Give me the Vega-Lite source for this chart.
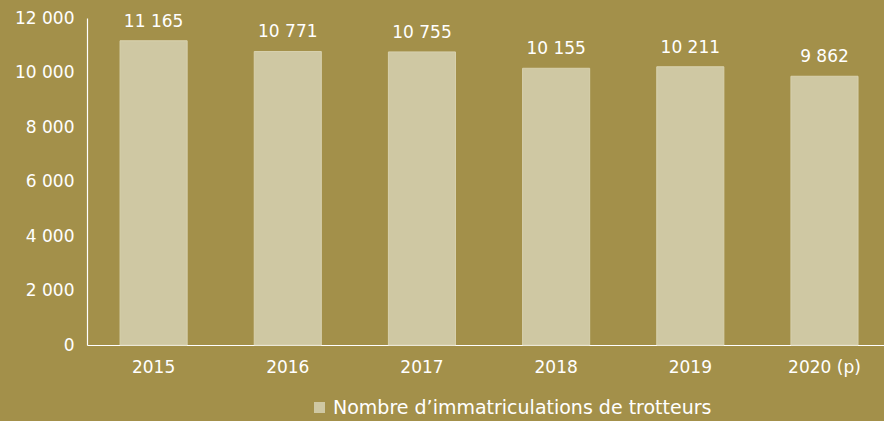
{
  "$schema": "https://vega.github.io/schema/vega-lite/v6.json",
  "width": 797,
  "height": 327,
  "autosize": {"type": "none"},
  "padding": {"left": 87, "top": 18, "right": 0, "bottom": 76},
  "background": "#A3904A",
  "config": {
    "view": {"stroke": null},
    "font": "DejaVu Sans",
    "locale": {"number": {"decimal": ",", "thousands": " ", "grouping": [3], "currency": ["", " €"]}},
    "axis": {"labelColor": "#FFFFFF", "labelFont": "DejaVu Sans", "labelFontSize": 17, "domainColor": "#FFFFFF", "domainWidth": 1.2, "ticks": false, "tickSize": 0, "grid": false, "title": null}
  },
  "data": {
    "values": [
      {"annee": "2015", "n": 11165, "serie": "Nombre d’immatriculations de trotteurs"},
      {"annee": "2016", "n": 10771, "serie": "Nombre d’immatriculations de trotteurs"},
      {"annee": "2017", "n": 10755, "serie": "Nombre d’immatriculations de trotteurs"},
      {"annee": "2018", "n": 10155, "serie": "Nombre d’immatriculations de trotteurs"},
      {"annee": "2019", "n": 10211, "serie": "Nombre d’immatriculations de trotteurs"},
      {"annee": "2020 (p)", "n": 9862, "serie": "Nombre d’immatriculations de trotteurs"}
    ]
  },
  "encoding": {
    "x": {
      "field": "annee", "type": "nominal", "sort": null,
      "scale": {"paddingInner": 0.5, "paddingOuter": 0.22, "align": 0.56},
      "axis": {"labelAngle": 0, "labelPadding": 14}
    },
    "y": {
      "field": "n", "type": "quantitative",
      "scale": {"domain": [0, 12000], "nice": false},
      "axis": {"values": [0, 2000, 4000, 6000, 8000, 10000, 12000], "format": ",d", "labelPadding": 13}
    }
  },
  "layer": [
    {
      "mark": {"type": "bar", "stroke": "#D8D1AE", "strokeWidth": 1},
      "encoding": {
        "color": {
          "field": "serie", "type": "nominal",
          "scale": {"range": ["#CFC8A3"]},
          "legend": {
            "title": null, "orient": "none", "legendX": 223, "legendY": 380,
            "symbolType": "square", "symbolSize": 121, "symbolStrokeWidth": 0,
            "labelColor": "#FFFFFF", "labelFont": "DejaVu Sans", "labelFontSize": 19, "labelOffset": 4, "labelLimit": 600
          }
        }
      }
    },
    {
      "mark": {"type": "text", "baseline": "bottom", "dy": -10, "color": "#FFFFFF", "fontSize": 17, "font": "DejaVu Sans"},
      "encoding": {"text": {"field": "n", "type": "quantitative", "format": ",d"}}
    }
  ]
}
